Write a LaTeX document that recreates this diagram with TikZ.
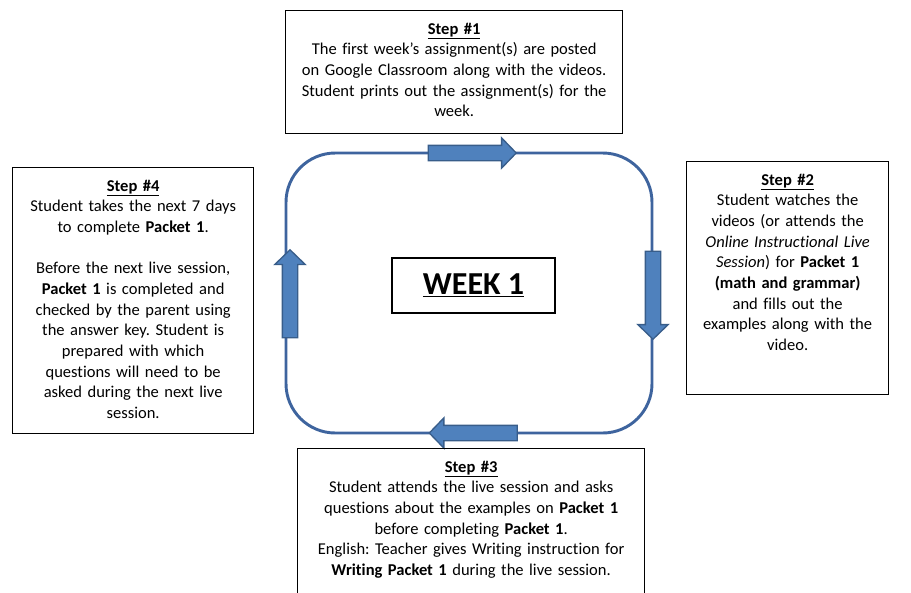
\documentclass[tikz,border=0pt]{standalone}
\usepackage{fontspec}
\setmainfont{Carlito}[Ligatures=NoCommon]
\usetikzlibrary{shapes.arrows}
\definecolor{loopblue}{RGB}{62,100,158}
\definecolor{arrowfill}{RGB}{79,129,189}
\definecolor{arrowline}{RGB}{56,93,138}
\newcommand{\steptitle}[1]{\underline{\textbf{Step \##1}}}
\frenchspacing

\begin{document}
\begin{tikzpicture}[x=0.75pt, y=-0.75pt,
	stepbox/.style={draw, line width=1pt, anchor=north west, align=center, inner xsep=4pt, inner ysep=4pt, text height=13.5pt, font=\fontsize{12.4}{15.5}\selectfont},
	blockarrow/.style={single arrow, draw=arrowline, fill=arrowfill, line width=1pt, minimum width=0pt, minimum height=66pt, inner xsep=0pt, inner ysep=5.25pt, text height=0pt, text depth=0pt, single arrow head extend=5.6pt, single arrow tip angle=92}]
	\useasboundingbox (0, 0) rectangle (911, 593);
	\node[draw=loopblue, line width=2.2pt, rounded corners=37pt, minimum width=274.5pt, minimum height=210pt] (loop) at (469, 293) {};
	\node[blockarrow] (a1) at (468.5, 153) {};
	\node[blockarrow, rotate=-90] (a2) at (653, 291.5) {};
	\node[blockarrow, rotate=180] (a3) at (477, 433) {};
	\node[blockarrow, rotate=90] (a4) at (290, 297.5) {};
	\node[draw, line width=0.8pt, minimum width=122.25pt, minimum height=41.25pt, font=\fontsize{24}{28}\selectfont\bfseries] (week) at (473.5, 285.5) {\underline{WEEK 1}};
	
	\node[stepbox, text width=244.75pt, text depth=70.75pt] (s1) at (285, 10) {\steptitle{1}\\
		The first week’s assignment(s) are posted\\
		on Google Classroom along with the videos.\\
		Student prints out the assignment(s) for the\\
		week.};
	\node[stepbox, text width=143.5pt, text depth=153.25pt] (s2) at (686, 161) {\steptitle{2}\\
		Student watches the\\
		videos (or attends the\\
		\textit{Online Instructional Live}\\
		\textit{Session}) for \textbf{Packet 1}\\
		\textbf{(math and grammar)}\\
		and fills out the\\
		examples along with the\\
		video.};
	\node[stepbox, text width=252.25pt, text depth=92.5pt] (s3) at (297, 448) {\steptitle{3}\\
		Student attends the live session and asks\\
		questions about the examples on \textbf{Packet 1}\\
		before completing \textbf{Packet 1}.\\
		English: Teacher gives Writing instruction for\\
		\textbf{Writing Packet 1} during the live session.};
	\node[stepbox, text width=172.75pt, text depth=178pt] (s4) at (12, 167) {\steptitle{4}\\
		Student takes the next 7 days\\
		to complete \textbf{Packet 1}.\\[15.5pt]
		Before the next live session,\\
		\textbf{Packet 1} is completed and\\
		checked by the parent using\\
		the answer key. Student is\\
		prepared with which\\
		questions will need to be\\
		asked during the next live\\
		session.};
\end{tikzpicture}
\end{document}
